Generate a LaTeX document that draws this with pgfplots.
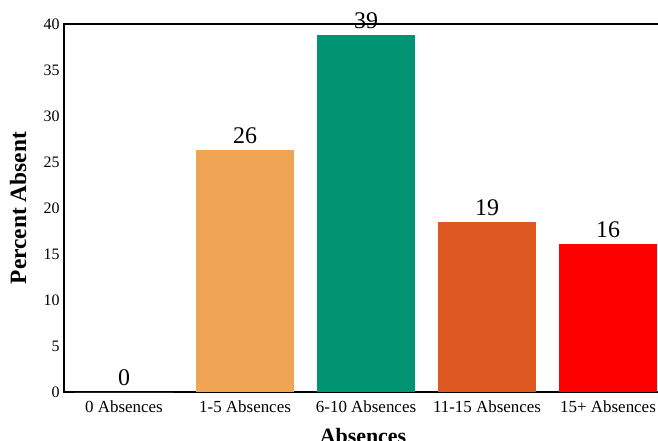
\documentclass[border=0pt]{standalone}
\usepackage{fontspec}
\setmainfont{Liberation Serif}
\usepackage{pgfplots}
\pgfplotsset{compat=1.18}
\definecolor{cOrange}{RGB}{240,165,85}
\definecolor{cGreen}{RGB}{0,148,115}
\definecolor{cDark}{RGB}{221,89,33}
\definecolor{cRed}{RGB}{255,0,0}
\begin{document}
\begin{tikzpicture}
\begin{axis}[
  scale only axis,
  width=598bp, height=368bp,
  xmin=-0.496, xmax=4.446,
  ymin=0, ymax=40,
  ytick={0,5,...,40},
  xtick={0,1,2,3,4},
  xticklabels={0 Absences,1-5 Absences,6-10 Absences,11-15 Absences,15+ Absences},
  /pgf/number format/assume math mode=true,
  yticklabel style={font=\fontsize{16}{18}\selectfont, xshift=-1bp},
  xticklabel style={font=\fontsize{17}{19}\selectfont, yshift=-5bp},
  major tick length=0pt,
  axis line style={line width=1.6pt},
  ylabel={\textbf{Percent Absent}},
  xlabel={\textbf{Absences}},
  ylabel style={font=\fontsize{23.5}{25}\selectfont, at={(rel axis cs:0,0.5)}, yshift=46bp, anchor=center},
  xlabel style={font=\fontsize{22}{24}\selectfont, at={(rel axis cs:0.5,0)}, yshift=-44bp, anchor=center},
  ybar, bar width=0.812, bar shift=0pt,
  nodes near coords={\pgfmathprintnumber[fixed,precision=0]{\pgfplotspointmeta}},
  nodes near coords style={font=\fontsize{24}{26}\selectfont, black, inner sep=0bp, yshift=6bp},
  clip=false,
]
\addplot[fill=white, draw=none] coordinates {(0,0)};
\addplot[fill=cOrange, draw=none] coordinates {(1,26.3)};
\addplot[fill=cGreen, draw=none] coordinates {(2,38.8)};
\addplot[fill=cDark, draw=none] coordinates {(3,18.5)};
\addplot[fill=cRed, draw=none] coordinates {(4,16.1)};
\coordinate (bl) at (rel axis cs:0,0);
\end{axis}
\pgfresetboundingbox
\path ([shift={(-64bp,-49bp)}]bl) rectangle ([shift={(594bp,392bp)}]bl);
\end{tikzpicture}
\end{document}
